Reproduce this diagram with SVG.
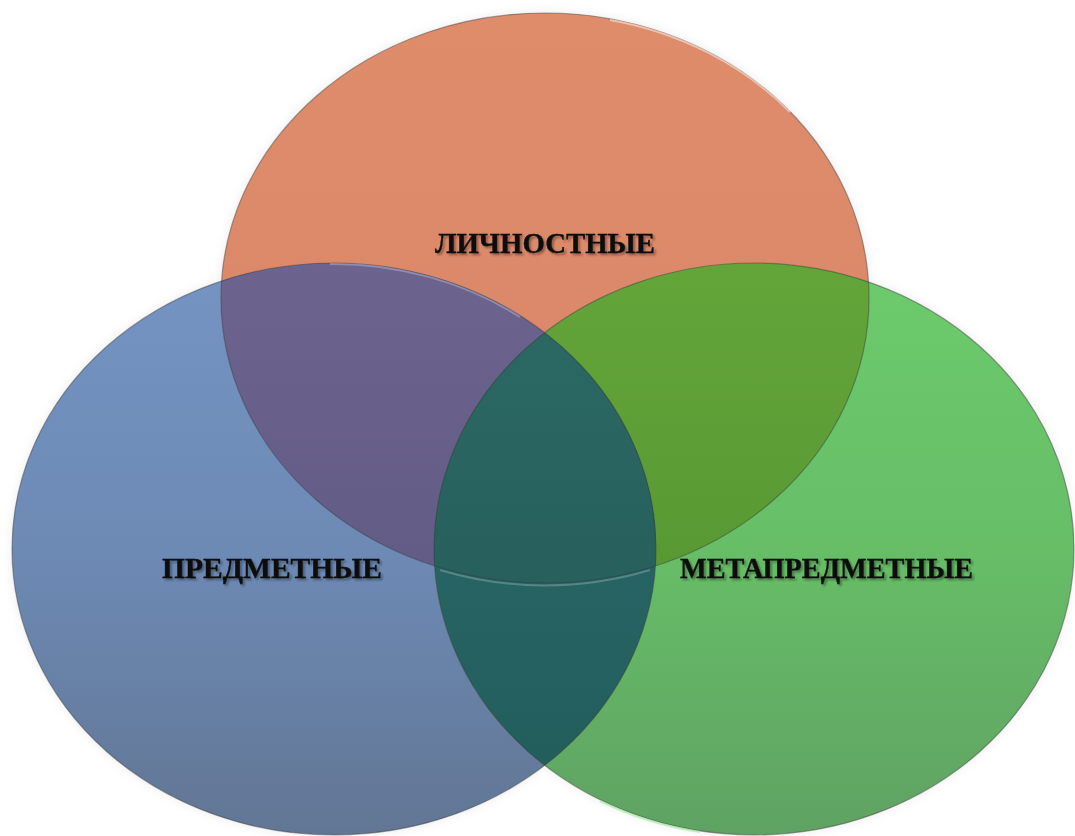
<svg xmlns="http://www.w3.org/2000/svg" width="1075" height="836" viewBox="0 0 1075 836">
  <style>
    .lbl { font-family: "Liberation Serif", "Times New Roman", serif; font-weight: bold; font-size: 30px; fill: #111111; stroke: #111111; stroke-width: 0.4; filter: url(#txtShadow); }
    .edge { fill: none; stroke: #3a3a3a; stroke-opacity: 0.45; stroke-width: 1.2; }
    .hl { fill: none; stroke-width: 2; }
  </style>
  <defs>
    <linearGradient id="gOrange" x1="0" y1="0" x2="0" y2="1">
      <stop offset="0" stop-color="#de8c6a"/>
      <stop offset="1" stop-color="#d9866a"/>
    </linearGradient>
    <linearGradient id="gBlue" x1="0" y1="0" x2="0" y2="1">
      <stop offset="0" stop-color="#7594c2"/>
      <stop offset="0.5" stop-color="#6d8ab5"/>
      <stop offset="1" stop-color="#627694"/>
    </linearGradient>
    <linearGradient id="gGreen" x1="0" y1="0" x2="0" y2="1">
      <stop offset="0" stop-color="#6ccb6c"/>
      <stop offset="0.5" stop-color="#67be67"/>
      <stop offset="1" stop-color="#5fa263"/>
    </linearGradient>
    <linearGradient id="gPurple" x1="0" y1="0" x2="0" y2="1">
      <stop offset="0" stop-color="#6c648e"/>
      <stop offset="1" stop-color="#5a5480"/>
    </linearGradient>
    <linearGradient id="gOlive" x1="0" y1="0" x2="0" y2="1">
      <stop offset="0" stop-color="#64a53a"/>
      <stop offset="1" stop-color="#4f8e2c"/>
    </linearGradient>
    <linearGradient id="gTeal" x1="0" y1="0" x2="0" y2="1">
      <stop offset="0" stop-color="#2c6c6c"/>
      <stop offset="1" stop-color="#215c5a"/>
    </linearGradient>
    <linearGradient id="gCenter" x1="0" y1="0" x2="0" y2="1">
      <stop offset="0" stop-color="#2c6a66"/>
      <stop offset="1" stop-color="#235856"/>
    </linearGradient>
    <clipPath id="cO"><ellipse cx="545" cy="298" rx="324" ry="285"/></clipPath>
    <clipPath id="cB"><ellipse cx="334" cy="549" rx="322" ry="286"/></clipPath>
    <filter id="txtShadow" x="-10%" y="-30%" width="120%" height="160%">
      <feGaussianBlur in="SourceAlpha" stdDeviation="1.2"/>
      <feOffset dx="1.5" dy="2" result="b"/>
      <feComponentTransfer><feFuncA type="linear" slope="0.35"/></feComponentTransfer>
      <feMerge><feMergeNode/><feMergeNode in="SourceGraphic"/></feMerge>
    </filter>
    <filter id="soft" x="-5%" y="-5%" width="110%" height="110%">
      <feGaussianBlur stdDeviation="4"/>
    </filter>
  </defs>
  <rect width="1075" height="836" fill="#ffffff"/>

  <g id="shadows" opacity="0.12" filter="url(#soft)">
    <ellipse cx="545" cy="298" rx="326" ry="287" fill="#888"/>
    <ellipse cx="334" cy="549" rx="324" ry="288" fill="#888"/>
    <ellipse cx="754" cy="549" rx="321" ry="288" fill="#888"/>
  </g>

  <g id="node-lichnostnye">
    <ellipse cx="545" cy="298" rx="324" ry="285" fill="url(#gOrange)"/>
  </g>
  <g id="node-predmetnye">
    <ellipse cx="334" cy="549" rx="322" ry="286" fill="url(#gBlue)"/>
  </g>
  <g id="node-metapredmetnye">
    <ellipse cx="754" cy="549" rx="320" ry="286" fill="url(#gGreen)"/>
  </g>

  <g id="overlaps">
    <ellipse cx="334" cy="549" rx="322" ry="286" fill="url(#gPurple)" clip-path="url(#cO)"/>
    <ellipse cx="754" cy="549" rx="320" ry="286" fill="url(#gOlive)" clip-path="url(#cO)"/>
    <ellipse cx="754" cy="549" rx="320" ry="286" fill="url(#gTeal)" clip-path="url(#cB)"/>
    <g clip-path="url(#cO)">
      <ellipse cx="754" cy="549" rx="320" ry="286" fill="url(#gCenter)" clip-path="url(#cB)"/>
    </g>
  </g>

  <g id="outlines">
    <ellipse class="edge" cx="545" cy="298" rx="324" ry="285"/>
    <ellipse class="edge" cx="334" cy="549" rx="322" ry="286"/>
    <ellipse class="edge" cx="754" cy="549" rx="320" ry="286"/>
    <path class="hl" d="M 610 20 A 324 285 0 0 1 790 112" stroke="#ffe9dc" stroke-opacity="0.6"/>
    <path class="hl" d="M 330 264 A 322 286 0 0 1 520 317" stroke="#d8d8ee" stroke-opacity="0.35"/>
    <path class="hl" d="M 440 570 A 324 285 0 0 0 650 570" stroke="#bfd8d8" stroke-opacity="0.3"/>
    <path class="hl" d="M 600 801 A 320 286 0 0 0 700 832" stroke="#a8f0a8" stroke-opacity="0.7"/>
  </g>

  <g id="connectors"/>

  <g id="labels">
    <text class="lbl" x="435" y="253" textLength="220" lengthAdjust="spacingAndGlyphs">ЛИЧНОСТНЫЕ</text>
    <text class="lbl" x="162" y="578" textLength="220" lengthAdjust="spacingAndGlyphs">ПРЕДМЕТНЫЕ</text>
    <text class="lbl" x="680" y="578" textLength="293" lengthAdjust="spacingAndGlyphs">МЕТАПРЕДМЕТНЫЕ</text>
  </g>
</svg>
